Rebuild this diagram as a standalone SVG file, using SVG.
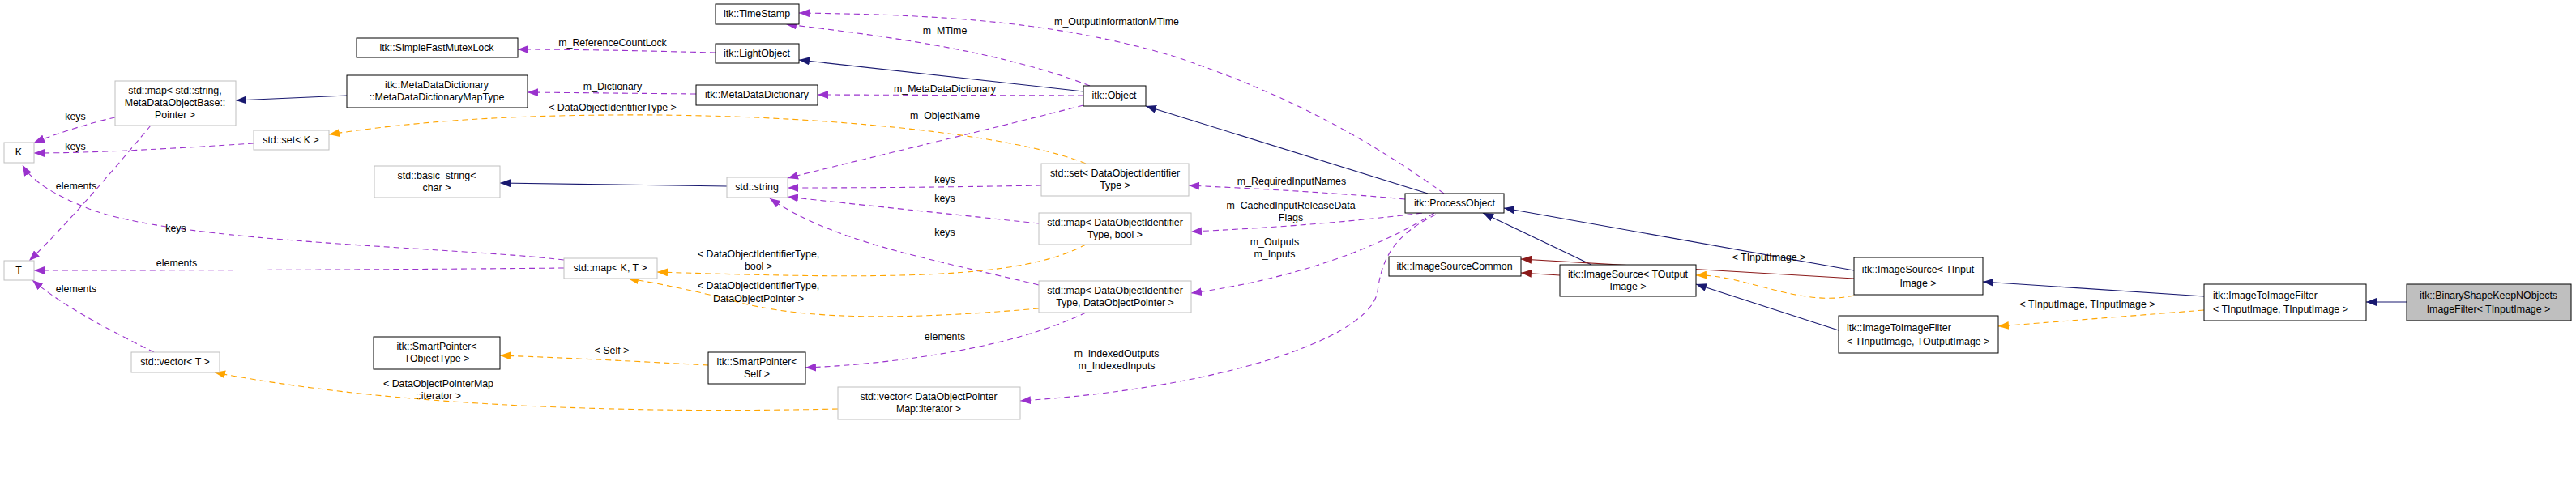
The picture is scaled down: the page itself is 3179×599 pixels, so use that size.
<svg xmlns="http://www.w3.org/2000/svg" width="3179" height="599" viewBox="0 0 3179 599">
<style>
text{font-family:"Liberation Sans",Arial,sans-serif;font-size:12.4px;fill:#000}
.n rect{fill:#fff;stroke:#000;stroke-width:1}
.u rect{fill:#fff;stroke:#bfbfbf;stroke-width:1}
.c{text-anchor:middle}
.e path{fill:none;stroke-width:1.1}
.p{stroke:#9a32cd;stroke-dasharray:7,5}
.o{stroke:#ffa500;stroke-dasharray:7,5}
.b{stroke:#191970}
.r{stroke:#8b1a1a}
</style>
<defs>
<marker id="mp" markerUnits="userSpaceOnUse" markerWidth="14" markerHeight="10" refX="13" refY="5" orient="auto"><path d="M0,0L13,5L0,10z" fill="#9a32cd"/></marker>
<marker id="mo" markerUnits="userSpaceOnUse" markerWidth="14" markerHeight="10" refX="13" refY="5" orient="auto"><path d="M0,0L13,5L0,10z" fill="#ffa500"/></marker>
<marker id="mb" markerUnits="userSpaceOnUse" markerWidth="14" markerHeight="10" refX="13" refY="5" orient="auto"><path d="M0,0L13,5L0,10z" fill="#191970"/></marker>
<marker id="mr" markerUnits="userSpaceOnUse" markerWidth="14" markerHeight="10" refX="13" refY="5" orient="auto"><path d="M0,0L13,5L0,10z" fill="#8b1a1a"/></marker>
</defs>
<g id="edges" class="e">
<path class="b" d="M428,118L291,124" marker-end="url(#mb)"/>
<path class="p" d="M142,145C110,152 70,165 42,176" marker-end="url(#mp)"/>
<path class="p" d="M186,155C140,210 80,280 36,322" marker-end="url(#mp)"/>
<path class="p" d="M313,177C220,183 120,189 42,189" marker-end="url(#mp)"/>
<path class="p" d="M696,321C560,305 220,300 110,258C70,242 40,225 28,204" marker-end="url(#mp)"/>
<path class="p" d="M696,331C500,333 250,334 42,334" marker-end="url(#mp)"/>
<path class="p" d="M190,435C140,410 80,380 40,346" marker-end="url(#mp)"/>
<path class="o" d="M1340,202C1250,165 1000,140 756,142C600,143 500,152 406,166" marker-end="url(#mo)"/>
<path class="p" d="M883,65C800,63 720,61 639,61" marker-end="url(#mp)"/>
<path class="b" d="M1337,113L986,74" marker-end="url(#mb)"/>
<path class="p" d="M1345,106C1240,65 1100,45 970,30" marker-end="url(#mp)"/>
<path class="p" d="M1782,239C1700,180 1600,120 1450,70C1300,25 1150,18 986,16" marker-end="url(#mp)"/>
<path class="p" d="M1337,118L1009,117" marker-end="url(#mp)"/>
<path class="p" d="M859,116L651,114" marker-end="url(#mp)"/>
<path class="p" d="M1337,130C1200,165 1050,200 972,220" marker-end="url(#mp)"/>
<path class="b" d="M897,230L617,226" marker-end="url(#mb)"/>
<path class="p" d="M1285,229C1180,231 1080,232 972,232" marker-end="url(#mp)"/>
<path class="p" d="M1282,276C1180,265 1060,253 972,243" marker-end="url(#mp)"/>
<path class="p" d="M1282,352C1150,320 1030,300 950,245" marker-end="url(#mp)"/>
<path class="o" d="M1340,302C1260,345 1100,345 811,336" marker-end="url(#mo)"/>
<path class="o" d="M1282,381C1150,392 1000,400 900,370C840,355 800,348 775,344" marker-end="url(#mo)"/>
<path class="p" d="M1340,386C1250,430 1100,450 994,454" marker-end="url(#mp)"/>
<path class="o" d="M874,451C800,447 700,442 617,439" marker-end="url(#mo)"/>
<path class="o" d="M1034,505C800,510 500,505 265,460" marker-end="url(#mo)"/>
<path class="p" d="M1734,246C1650,238 1550,233 1467,229" marker-end="url(#mp)"/>
<path class="p" d="M1755,263C1660,275 1560,282 1470,286" marker-end="url(#mp)"/>
<path class="p" d="M1770,263C1680,320 1560,350 1470,362" marker-end="url(#mp)"/>
<path class="p" d="M1772,265C1720,290 1705,320 1700,360C1690,420 1500,480 1259,495" marker-end="url(#mp)"/>
<path class="b" d="M1762,239L1414,131" marker-end="url(#mb)"/>
<path class="b" d="M1964,327L1830,263" marker-end="url(#mb)"/>
<path class="b" d="M2288,334L1856,257" marker-end="url(#mb)"/>
<path class="r" d="M1925,340L1877,337" marker-end="url(#mr)"/>
<path class="r" d="M2288,344L1877,320" marker-end="url(#mr)"/>
<path class="b" d="M2269,408L2093,351" marker-end="url(#mb)"/>
<path class="o" d="M2288,365C2220,380 2150,338 2093,340" marker-end="url(#mo)"/>
<path class="b" d="M2720,366L2447,348" marker-end="url(#mb)"/>
<path class="o" d="M2720,383L2466,403" marker-end="url(#mo)"/>
<path class="b" d="M2970,373L2920,373" marker-end="url(#mb)"/>
<text class="c" x="93" y="148">keys</text>
<text class="c" x="93" y="185">keys</text>
<text class="c" x="94" y="234">elements</text>
<text class="c" x="217" y="286">keys</text>
<text class="c" x="218" y="329">elements</text>
<text class="c" x="94" y="361">elements</text>
<text class="c" x="541" y="478">&lt; DataObjectPointerMap</text>
<text class="c" x="541" y="493">::iterator &gt;</text>
<text class="c" x="756" y="57">m_ReferenceCountLock</text>
<text class="c" x="756" y="111">m_Dictionary</text>
<text class="c" x="756" y="137">&lt; DataObjectIdentifierType &gt;</text>
<text class="c" x="936" y="318">&lt; DataObjectIdentifierType,</text>
<text class="c" x="936" y="333">bool &gt;</text>
<text class="c" x="936" y="357">&lt; DataObjectIdentifierType,</text>
<text class="c" x="936" y="373">DataObjectPointer &gt;</text>
<text class="c" x="755" y="437">&lt; Self &gt;</text>
<text class="c" x="1378" y="31">m_OutputInformationMTime</text>
<text class="c" x="1166" y="42">m_MTime</text>
<text class="c" x="1166" y="114">m_MetaDataDictionary</text>
<text class="c" x="1166" y="147">m_ObjectName</text>
<text class="c" x="1166" y="226">keys</text>
<text class="c" x="1166" y="249">keys</text>
<text class="c" x="1166" y="291">keys</text>
<text class="c" x="1166" y="420">elements</text>
<text class="c" x="1594" y="228">m_RequiredInputNames</text>
<text class="c" x="1593" y="258">m_CachedInputReleaseData</text>
<text class="c" x="1593" y="273">Flags</text>
<text class="c" x="1573" y="303">m_Outputs</text>
<text class="c" x="1573" y="318">m_Inputs</text>
<text class="c" x="1378" y="441">m_IndexedOutputs</text>
<text class="c" x="1378" y="456">m_IndexedInputs</text>
<text class="c" x="2183" y="322">&lt; TInputImage &gt;</text>
<text class="c" x="2576" y="380">&lt; TInputImage, TInputImage &gt;</text>
</g>
<g id="n_mapstring" class="u"><rect x="142" y="100" width="149" height="55"/><text class="c" x="216" y="116">std::map&lt; std::string,</text><text class="c" x="216" y="131">MetaDataObjectBase::</text><text class="c" x="216" y="146">Pointer &gt;</text></g>
<g id="n_K" class="u"><rect x="5" y="176" width="37" height="25"/><text class="c" x="23" y="192">K</text></g>
<g id="n_T" class="u"><rect x="5" y="322" width="37" height="24"/><text class="c" x="23" y="338">T</text></g>
<g id="n_setK" class="u"><rect x="313" y="161" width="93" height="24"/><text class="c" x="359" y="177">std::set&lt; K &gt;</text></g>
<g id="n_vecT" class="u"><rect x="162" y="435" width="109" height="25"/><text class="c" x="216" y="451">std::vector&lt; T &gt;</text></g>
<g id="n_mutex" class="n"><rect x="440" y="47" width="199" height="24"/><text class="c" x="539" y="63">itk::SimpleFastMutexLock</text></g>
<g id="n_maptype" class="n"><rect x="428" y="93" width="223" height="40"/><text class="c" x="539" y="109">itk::MetaDataDictionary</text><text class="c" x="539" y="124">::MetaDataDictionaryMapType</text></g>
<g id="n_basic" class="u"><rect x="462" y="205" width="155" height="39"/><text class="c" x="539" y="221">std::basic_string&lt;</text><text class="c" x="539" y="236">char &gt;</text></g>
<g id="n_sptobj" class="n"><rect x="461" y="416" width="156" height="40"/><text class="c" x="539" y="432">itk::SmartPointer&lt;</text><text class="c" x="539" y="447">TObjectType &gt;</text></g>
<g id="n_timestamp" class="n"><rect x="883" y="5" width="103" height="25"/><text class="c" x="934" y="21">itk::TimeStamp</text></g>
<g id="n_light" class="n"><rect x="883" y="54" width="103" height="24"/><text class="c" x="934" y="70">itk::LightObject</text></g>
<g id="n_mdd" class="n"><rect x="859" y="105" width="150" height="25"/><text class="c" x="934" y="121">itk::MetaDataDictionary</text></g>
<g id="n_string" class="u"><rect x="897" y="219" width="75" height="25"/><text class="c" x="934" y="235">std::string</text></g>
<g id="n_mapKT" class="u"><rect x="696" y="319" width="115" height="25"/><text class="c" x="753" y="335">std::map&lt; K, T &gt;</text></g>
<g id="n_sptself" class="n"><rect x="874" y="435" width="120" height="39"/><text class="c" x="934" y="451">itk::SmartPointer&lt;</text><text class="c" x="934" y="466">Self &gt;</text></g>
<g id="n_vecdop" class="u"><rect x="1034" y="478" width="225" height="40"/><text class="c" x="1146" y="494">std::vector&lt; DataObjectPointer</text><text class="c" x="1146" y="509">Map::iterator &gt;</text></g>
<g id="n_object" class="n"><rect x="1337" y="106" width="77" height="25"/><text class="c" x="1375" y="122">itk::Object</text></g>
<g id="n_setdoi" class="u"><rect x="1285" y="202" width="182" height="40"/><text class="c" x="1376" y="218">std::set&lt; DataObjectIdentifier</text><text class="c" x="1376" y="233">Type &gt;</text></g>
<g id="n_mapbool" class="u"><rect x="1282" y="263" width="188" height="39"/><text class="c" x="1376" y="279">std::map&lt; DataObjectIdentifier</text><text class="c" x="1376" y="294">Type, bool &gt;</text></g>
<g id="n_mapdop" class="u"><rect x="1282" y="347" width="188" height="39"/><text class="c" x="1376" y="363">std::map&lt; DataObjectIdentifier</text><text class="c" x="1376" y="378">Type, DataObjectPointer &gt;</text></g>
<g id="n_process" class="n"><rect x="1734" y="239" width="122" height="24"/><text class="c" x="1795" y="255">itk::ProcessObject</text></g>
<g id="n_isc" class="n"><rect x="1714" y="317" width="163" height="24"/><text class="c" x="1795" y="333">itk::ImageSourceCommon</text></g>
<g id="n_isout" class="n"><rect x="1925" y="327" width="168" height="39"/><text class="c" x="2009" y="343">itk::ImageSource&lt; TOutput</text><text class="c" x="2009" y="358">Image &gt;</text></g>
<g id="n_isin" class="n"><rect x="2288" y="318" width="159" height="46"/><text class="c" x="2367" y="337">itk::ImageSource&lt; TInput</text><text class="c" x="2367" y="354">Image &gt;</text></g>
<g id="n_itiout" class="n"><rect x="2269" y="390" width="197" height="46"/><text x="2279" y="409">itk::ImageToImageFilter</text><text x="2279" y="426">&lt; TInputImage, TOutputImage &gt;</text></g>
<g id="n_itiin" class="n"><rect x="2720" y="351" width="200" height="45"/><text x="2731" y="369">itk::ImageToImageFilter</text><text x="2731" y="386">&lt; TInputImage, TInputImage &gt;</text></g>
<g id="n_binary" class="n"><rect x="2970" y="351" width="203" height="45" style="fill:#bfbfbf"/><text class="c" x="3071" y="369">itk::BinaryShapeKeepNObjects</text><text class="c" x="3071" y="386">ImageFilter&lt; TInputImage &gt;</text></g>
</svg>
